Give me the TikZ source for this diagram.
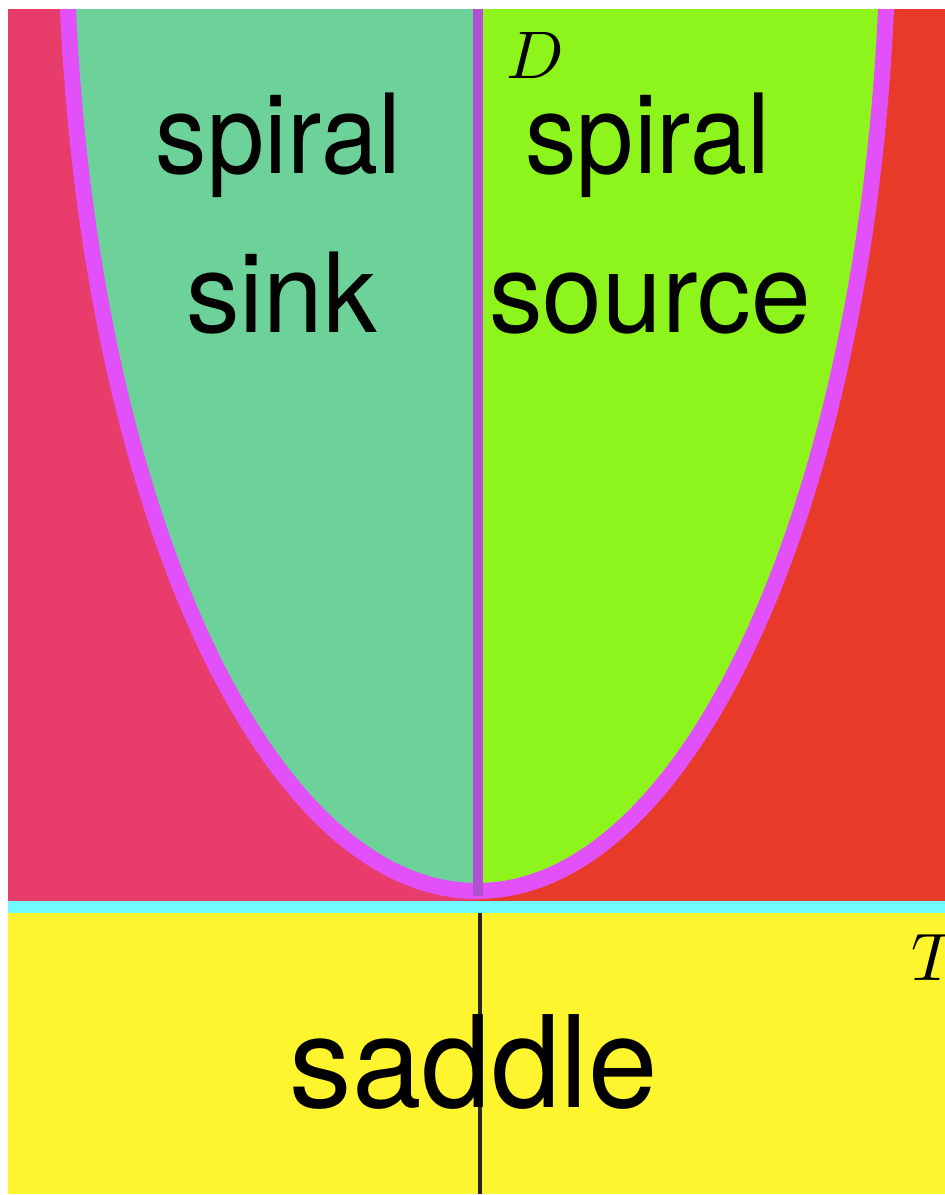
\documentclass[tikz,border=0pt]{standalone}
\usepackage{fontspec}
\usepackage{graphicx}
\newfontfamily\heros{TeX Gyre Heros}
\definecolor{pinkbg}{HTML}{E83C6A}
\definecolor{redbg}{HTML}{E83A28}
\definecolor{tealfill}{HTML}{6CD29A}
\definecolor{limefill}{HTML}{8EF51C}
\definecolor{magline}{HTML}{E150F9}
\definecolor{cyanline}{HTML}{70FBFF}
\definecolor{yellowbg}{HTML}{FFF52E}
\definecolor{purpleline}{HTML}{B050D2}
\tikzset{
  biglabel/.style={font=\heros\fontsize{111}{111}\selectfont, inner sep=0pt, anchor=base},
  hugelabel/.style={font=\heros\fontsize{128}{128}\selectfont, inner sep=0pt, anchor=base},
  mathlabel/.style={inner sep=0pt, anchor=base west},
  bound/.style={x radius=411.5, y radius=991}
}
\begin{document}
\begin{tikzpicture}[x=1bp,y=-1bp]
\useasboundingbox (0,0) rectangle (945,1195);
% upper regions
\fill[pinkbg] (8,9) rectangle (477.5,904);
\fill[redbg] (477.5,9) rectangle (945,904);
\coordinate (ec) at (477,-100);
\begin{scope}
  \clip (8,9) rectangle (945,904);
  \begin{scope}
    \clip (8,0) rectangle (477.5,904);
    \fill[tealfill] (ec) ellipse [bound];
  \end{scope}
  \begin{scope}
    \clip (477.5,0) rectangle (945,904);
    \fill[limefill] (ec) ellipse [bound];
  \end{scope}
  \draw[magline, line width=16bp] (ec) ellipse [bound];
  \coordinate (vtop) at (478,9);
  \coordinate (vbot) at (478,896);
  \draw[purpleline, line width=10bp] (vtop) -- (vbot);
\end{scope}
% lower region
\fill[yellowbg] (8,907) rectangle (945,1194);
\fill[cyanline] (8,901) rectangle (945,913);
\coordinate (btop) at (479.5,913);
\coordinate (bbot) at (479.5,1194);
\draw[black!85, line width=4bp] (btop) -- (bbot);
% labels
\node[biglabel] (spl) at (278.5,173) {\scalebox{0.93}[1]{spiral}};
\node[biglabel] (sink) at (281.5,332) {\scalebox{0.97}[1]{sink}};
\node[biglabel] (spr) at (648,173) {\scalebox{0.93}[1]{spiral}};
\node[biglabel] (source) at (650,332) {\scalebox{0.97}[1]{source}};
\node[hugelabel] (saddle) at (474,1107) {\scalebox{0.98}[1]{saddle}};
\node[mathlabel] (D) at (506,78) {\scalebox{6.76}{$D$}};
\node[mathlabel] (T) at (911,980) {\scalebox{6.76}{$T$}};
\end{tikzpicture}
\end{document}
